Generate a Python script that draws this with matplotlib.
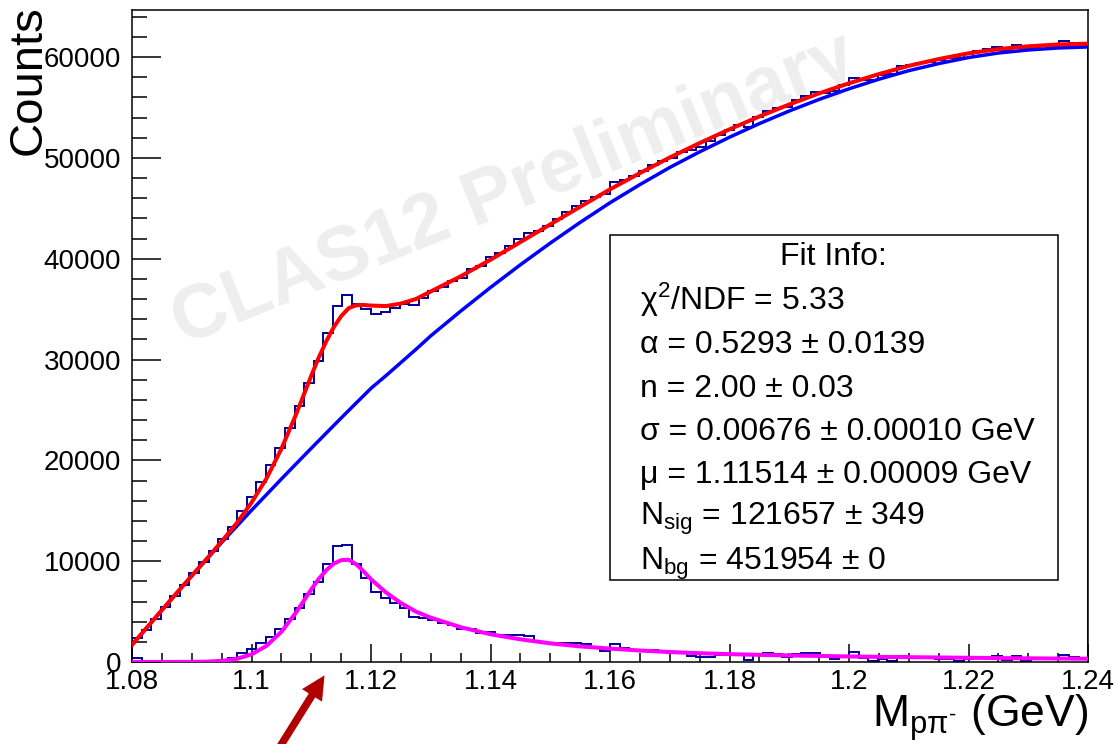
import numpy as np
import matplotlib
matplotlib.use('Agg')
import matplotlib.pyplot as plt
from matplotlib.patches import Rectangle, FancyArrowPatch
from matplotlib.ticker import MultipleLocator, FixedLocator, FixedFormatter

# histogram: 100 bins from 1.08 to 1.24 GeV
n_bins = 100
m_low, m_high = 1.08, 1.24

total_counts = [2410, 3150, 4250, 5430, 6520, 7660, 8800, 9880, 10990, 12180,
                13360, 14950, 16340, 17890, 19540, 21270, 23230, 25370, 27670, 29890,
                32610, 35340, 36360, 35460, 34980, 34550, 34730, 35090, 35510, 35390,
                36120, 36750, 37230, 37810, 38130, 38970, 39310, 40160, 40570, 41240,
                41940, 42580, 42710, 43230, 43930, 44620, 45200, 45730, 46130, 46370,
                47590, 47760, 48180, 48680, 49290, 49730, 50030, 50590, 50760, 51120,
                51650, 52280, 52740, 53270, 53110, 54040, 54610, 54940, 55050, 55710,
                56150, 56520, 56470, 56610, 57270, 57960, 57680, 57740, 58230, 58300,
                59070, 59240, 59390, 59550, 59700, 59900, 59890, 60280, 60620, 60770,
                60970, 60680, 61200, 60810, 61010, 61070, 61140, 61580, 61410, 61240]

signal_counts = [430, 20, -30, 10, -20, 0, 30, 40, 80, 200,
                 360, 920, 1290, 1850, 2510, 3240, 4230, 5390, 6710, 7970,
                 9730, 11500, 11570, 9730, 8300, 6980, 6310, 5820, 5400, 4470,
                 4380, 4200, 3900, 3700, 3240, 3320, 2910, 3010, 2700, 2650,
                 2630, 2580, 2020, 1850, 1890, 1920, 1850, 1740, 1520, 1130,
                 1750, 1350, 1190, 1130, 1190, 1090, 860, 920, 590, 460,
                 530, 690, 690, 790, 200, 690, 860, 790, 500, 780,
                 860, 860, 460, 260, 590, 960, 370, 130, 330, 130,
                 620, 530, 460, 400, 330, 330, 130, 330, 530, 530,
                 590, 200, 620, 130, 260, 260, 260, 660, 460, 260]

# fit curves
fit_x = [1.080, 1.085, 1.090, 1.0925, 1.095, 1.0975, 1.100, 1.1025, 1.105, 1.1075,
         1.110, 1.11125, 1.1125, 1.11375, 1.115, 1.11625, 1.1175, 1.11875, 1.120,
         1.1225, 1.125, 1.1275, 1.130, 1.135,
         1.140, 1.145, 1.150, 1.155, 1.160, 1.165, 1.170, 1.175, 1.180, 1.185,
         1.190, 1.195, 1.200, 1.205, 1.210, 1.215, 1.220, 1.225, 1.230, 1.235, 1.240]

bg_fit = [1700, 5150, 8550, 10200, 11850, 13450, 15050, 16600, 18150, 19680,
          21200, 21950, 22700, 23450, 24200, 24940, 25680, 26410, 27150,
          28400, 29700, 31000, 32350, 34800,
          37150, 39400, 41550, 43600, 45550, 47350, 49050, 50600, 52050, 53400,
          54650, 55800, 56850, 57800, 58650, 59350, 59950, 60400, 60700, 60900, 61000]

sig_fit = [0, 0, 10, 35, 110, 310, 760, 1600, 3000, 4950,
           7200, 8250, 9100, 9750, 10100, 10150, 9700, 9000, 8200,
           6900, 5850, 5000, 4400, 3450,
           2750, 2250, 1850, 1550, 1330, 1140, 990, 870, 780, 710,
           650, 600, 550, 510, 480, 450, 420, 390, 365, 345, 325]

x_ticks = [1.08, 1.10, 1.12, 1.14, 1.16, 1.18, 1.20, 1.22, 1.24]
x_tick_labels = ['1.08', '1.1', '1.12', '1.14', '1.16', '1.18', '1.2', '1.22', '1.24']
y_ticks = [0, 10000, 20000, 30000, 40000, 50000, 60000]
y_tick_labels = ['0', '10000', '20000', '30000', '40000', '50000', '60000']

fit_info = ['\u03c7$^{2}$/NDF = 5.33',
            '\u03b1 = 0.5293 \u00b1 0.0139',
            'n = 2.00 \u00b1 0.03',
            '\u03c3 = 0.00676 \u00b1 0.00010 GeV',
            '\u03bc = 1.11514 \u00b1 0.00009 GeV',
            'N$_{\\rm sig}$ = 121657 \u00b1 349',
            'N$_{\\rm bg}$ = 451954 \u00b1 0']

plt.rcParams['font.family'] = ['Liberation Sans', 'DejaVu Sans']
plt.rcParams['mathtext.fontset'] = 'custom'
plt.rcParams['mathtext.rm'] = 'Liberation Sans'
plt.rcParams['mathtext.it'] = 'Liberation Sans:italic'
plt.rcParams['mathtext.bf'] = 'Liberation Sans:bold'

fig = plt.figure(figsize=(11.17, 7.44), dpi=100)
ax = fig.add_axes([0.1182, 0.1102, 0.8559, 0.8763])

edges = np.linspace(m_low, m_high, n_bins + 1)
total_fit = np.array(bg_fit) + np.array(sig_fit)

ax.text(0.40, 0.724, 'CLAS12 Preliminary', transform=ax.transAxes, rotation=22,
        rotation_mode='anchor', ha='center', va='center', fontsize=55,
        fontweight='bold', color='#eeeeee', zorder=1)

ax.stairs(total_counts, edges, color='#000099', lw=1.4, zorder=2)
ax.stairs(signal_counts, edges, color='#000099', lw=1.4, zorder=2)
ax.plot(fit_x, bg_fit, color='#0000ff', lw=2.5, zorder=3)
ax.plot(fit_x, total_fit, color='#ff0000', lw=2.9, zorder=4)
ax.plot(fit_x, sig_fit, color='#ff00ff', lw=2.9, zorder=4)

ax.set_xlim(m_low, m_high)
ax.set_ylim(0, 64660)

ax.xaxis.set_major_locator(FixedLocator(x_ticks))
ax.xaxis.set_major_formatter(FixedFormatter(x_tick_labels))
ax.xaxis.set_minor_locator(MultipleLocator(0.005))
ax.yaxis.set_major_locator(FixedLocator(y_ticks))
ax.yaxis.set_major_formatter(FixedFormatter(y_tick_labels))
ax.yaxis.set_minor_locator(MultipleLocator(2000))

ax.tick_params(axis='x', which='major', direction='in', length=13, width=1.1,
               labelsize=20, pad=5)
ax.tick_params(axis='x', which='minor', direction='in', length=6.5, width=1.1)
ax.tick_params(axis='y', which='major', direction='in', length=21, width=1.1,
               labelsize=20, pad=8)
ax.tick_params(axis='y', which='minor', direction='in', length=11, width=1.1)
for sp in ax.spines.values():
    sp.set_linewidth(1.1)

# fit info box
ax.add_patch(Rectangle((0.5, 0.1258), 0.4686, 0.5291, transform=ax.transAxes,
                       facecolor='white', edgecolor='black', lw=1.1, zorder=5))
ax.text(0.734, 0.6089, 'Fit Info:', transform=ax.transAxes, ha='center',
        va='baseline', fontsize=23, zorder=6)
line_y = [0.5399, 0.4739, 0.4064, 0.3405, 0.2745, 0.2101, 0.1411]
for txt, yy in zip(fit_info, line_y):
    ax.text(0.5314, yy, txt, transform=ax.transAxes, ha='left', va='baseline',
            fontsize=23, zorder=6)

fig.text(29 / 1117, 1 - 5 / 744, 'Counts', rotation=90, fontsize=34,
         ha='center', va='top')
fig.text(1088 / 1117, 1 - 727 / 744, 'M$_{\\rm p\\pi^{\u2010}}$ (GeV)',
         fontsize=32, ha='right', va='baseline')

arrow = FancyArrowPatch((277 / 1117, -0.01), (326 / 1117, 1 - 673 / 744),
                        transform=fig.transFigure,
                        arrowstyle='simple,head_length=1.0,head_width=1.0,tail_width=0.32',
                        mutation_scale=17, color='#b00000', lw=0)
fig.add_artist(arrow)

fig.savefig('out.png', dpi=100)
